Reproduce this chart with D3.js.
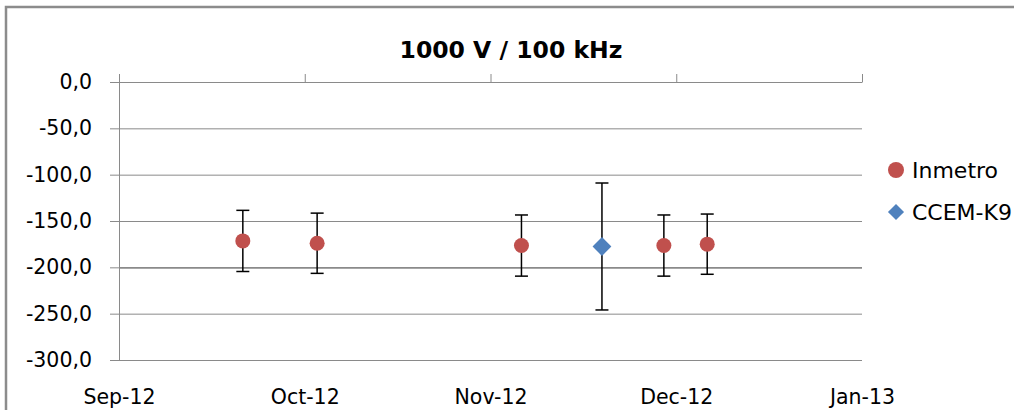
<!DOCTYPE html>
<html>
<head>
<meta charset="utf-8">
<script src="https://cdn.jsdelivr.net/npm/d3@7"></script>
<style>
  body { margin: 0; background: #fff; overflow: hidden; }
  svg { display: block; }
  svg text { font-family: "DejaVu Sans", sans-serif; fill: #000; }
  .grid line { stroke: #8a8a8a; }
  .axis path, .axis line { stroke: #8a8a8a; }
</style>
</head>
<body>
<svg id="chart" width="1014" height="410"></svg>
<script>
// data
const titleText = "1000 V / 100 kHz";
const monthTicks = ["2012-09-15", "2012-10-15", "2012-11-14", "2012-12-14", "2013-01-13"];
const yTicks = [0, -50, -100, -150, -200, -250, -300];

const inmetroDates = ["2012-10-05", "2012-10-17", "2012-11-19", "2012-12-12", "2012-12-19"];
const inmetroValues = [-171.5, -174.0, -176.5, -176.5, -175.0];
const inmetroErr = [33.0, 32.5, 33.0, 33.0, 32.5];

const ccemDates = ["2012-12-02"];
const ccemValues = [-177.5];
const ccemErr = [68.5];

const config = {
    plot: { left: 119, right: 862, top: 82, bottom: 360 },
    colors: { inmetro: "#c0504d", ccem: "#4f81bd", grid: "#8a8a8a" }
};

const parse = d3.utcParse("%Y-%m-%d");
const commaFmt = d3.formatLocale({ decimal: ",", thousands: ".", grouping: [3], currency: ["", ""], minus: "-" }).format(".1f");

function drawChart() {
    const svg = d3.select("#chart");
    const p = config.plot;
    const ticks = monthTicks.map(parse);

    const x = d3.scaleUtc().domain([ticks[0], ticks[ticks.length - 1]]).range([p.left, p.right]);
    const y = d3.scaleLinear().domain([-300, 0]).range([p.bottom, p.top]);

    // chart frame: only the top and left edges show in the picture
    svg.append("path").attr("d", "M6,420V7H1020")
        .attr("fill", "none").attr("stroke", "#8c8c8c").attr("stroke-width", 2.5);

    // horizontal gridlines
    svg.append("g").attr("class", "grid").attr("transform", `translate(${p.left},0)`)
        .call(d3.axisLeft(y).tickValues(yTicks).tickSize(-(p.right - p.left)).tickFormat(""))
        .call(g => g.select(".domain").remove())
        .call(g => g.selectAll("line").attr("stroke-width", d => d === -200 ? 1.8 : 1));

    // y axis
    svg.append("g").attr("class", "axis").attr("transform", `translate(${p.left},0)`)
        .call(d3.axisLeft(y).tickValues(yTicks).tickSize(9).tickSizeOuter(0).tickPadding(18).tickFormat(commaFmt))
        .call(g => g.selectAll("text").style("font-size", "20.5px"));

    // x axis line with ticks on the zero line
    svg.append("g").attr("class", "axis").attr("transform", `translate(0,${p.top})`)
        .call(d3.axisTop(x).tickValues(ticks).tickSize(8).tickSizeOuter(0).tickFormat(""));

    // month labels below the plot
    svg.append("g").attr("class", "axis").attr("transform", `translate(0,${p.bottom})`)
        .call(d3.axisBottom(x).tickValues(ticks).tickSize(0).tickPadding(29).tickFormat(d3.utcFormat("%b-%y")))
        .call(g => g.select(".domain").remove())
        .call(g => g.selectAll("text").style("font-size", "20.5px"));

    // title
    svg.append("text").attr("x", 511).attr("y", 58).attr("text-anchor", "middle")
        .style("font-weight", "bold").style("font-size", "23.5px").text(titleText);

    const inmetro = inmetroDates.map((d, i) => ({ date: parse(d), v: inmetroValues[i], e: inmetroErr[i] }));
    const ccem = ccemDates.map((d, i) => ({ date: parse(d), v: ccemValues[i], e: ccemErr[i] }));

    // error bars
    const all = inmetro.concat(ccem);
    const eb = svg.append("g").attr("stroke", "#000").attr("stroke-width", 1.5);
    eb.selectAll(".stem").data(all).enter().append("line")
        .attr("x1", d => x(d.date)).attr("x2", d => x(d.date))
        .attr("y1", d => y(d.v + d.e)).attr("y2", d => y(d.v - d.e));
    eb.selectAll(".capTop").data(all).enter().append("line")
        .attr("x1", d => x(d.date) - 6.5).attr("x2", d => x(d.date) + 6.5)
        .attr("y1", d => y(d.v + d.e)).attr("y2", d => y(d.v + d.e));
    eb.selectAll(".capBot").data(all).enter().append("line")
        .attr("x1", d => x(d.date) - 6.5).attr("x2", d => x(d.date) + 6.5)
        .attr("y1", d => y(d.v - d.e)).attr("y2", d => y(d.v - d.e));

    // markers
    svg.append("g").selectAll("circle").data(inmetro).enter().append("circle")
        .attr("cx", d => x(d.date)).attr("cy", d => y(d.v)).attr("r", 7.5)
        .attr("fill", config.colors.inmetro);

    const diamond = d3.symbol().type(d3.symbolDiamond2).size(225);
    svg.append("g").selectAll("path").data(ccem).enter().append("path")
        .attr("transform", d => `translate(${x(d.date)},${y(d.v)})`)
        .attr("d", diamond).attr("fill", config.colors.ccem);

    // legend
    const legend = svg.append("g").style("font-size", "22px");
    legend.append("circle").attr("cx", 896).attr("cy", 170).attr("r", 8).attr("fill", config.colors.inmetro);
    legend.append("text").attr("x", 912).attr("y", 178).text("Inmetro");
    legend.append("path").attr("transform", "translate(896,212)")
        .attr("d", d3.symbol().type(d3.symbolDiamond2).size(165)).attr("fill", config.colors.ccem);
    legend.append("text").attr("x", 912).attr("y", 220).text("CCEM-K9");
}

drawChart();
</script>
</body>
</html>
